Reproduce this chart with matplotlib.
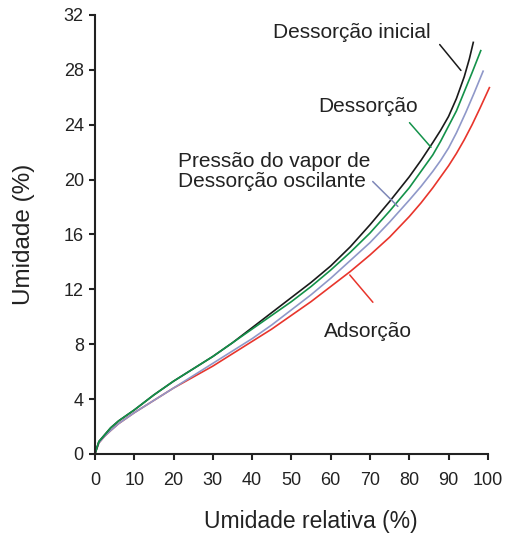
import matplotlib
matplotlib.use('Agg')
from matplotlib import pyplot as plt

plt.rcParams['font.family'] = ['Liberation Sans', 'DejaVu Sans']

# Curves (relative humidity %, moisture %).
x_inicial = [0, 1, 2.5, 4, 6, 8, 10, 15, 20, 25, 30, 35, 40, 45, 50, 55, 60,
             65, 70, 75, 80, 83, 86, 88, 90, 92, 94, 95.3, 96.3]
y_inicial = [0, 0.9, 1.4, 1.9, 2.4, 2.8, 3.2, 4.3, 5.3, 6.2, 7.1, 8.1, 9.2,
             10.3, 11.4, 12.5, 13.7, 15.1, 16.7, 18.4, 20.2, 21.4, 22.7, 23.6,
             24.6, 25.9, 27.5, 28.8, 30.0]

x_dessorcao = [0, 1, 2.5, 4, 6, 8, 10, 15, 20, 25, 30, 35, 40, 45, 50, 55, 60,
               65, 70, 75, 80, 83, 86, 88, 90, 92, 94, 96, 98.2]
y_dessorcao = [0, 0.9, 1.4, 1.9, 2.4, 2.8, 3.2, 4.3, 5.3, 6.2, 7.1, 8.1, 9.1,
               10.1, 11.1, 12.2, 13.4, 14.7, 16.1, 17.7, 19.4, 20.6, 21.8, 22.8,
               23.9, 25.0, 26.4, 27.8, 29.4]

x_oscilante = [0, 1, 2.5, 4, 6, 8, 10, 15, 20, 25, 30, 35, 40, 45, 50, 55, 60,
               65, 70, 75, 80, 83, 86, 88, 90, 92, 94.4, 96.5, 98.8]
y_oscilante = [0, 0.8, 1.3, 1.7, 2.2, 2.6, 3.0, 3.9, 4.8, 5.7, 6.6, 7.5, 8.4,
               9.4, 10.5, 11.6, 12.8, 14.1, 15.4, 16.9, 18.5, 19.5, 20.6, 21.4,
               22.3, 23.4, 24.9, 26.3, 27.9]

x_adsorcao = [0, 1, 2.5, 4, 6, 8, 10, 15, 20, 25, 30, 35, 40, 45, 50, 55, 60,
              65, 70, 75, 80, 83, 86, 88, 90, 92, 94, 96, 98, 100.4]
y_adsorcao = [0, 0.8, 1.3, 1.7, 2.2, 2.6, 3.0, 3.9, 4.8, 5.6, 6.4, 7.3, 8.2,
              9.1, 10.1, 11.1, 12.2, 13.3, 14.5, 15.8, 17.3, 18.3, 19.4, 20.2,
              21.0, 21.9, 22.9, 24.0, 25.2, 26.7]

x_ticks = list(range(0, 101, 10))
y_ticks = list(range(0, 33, 4))

fig = plt.figure(figsize=(5.05, 5.34), dpi=100)
ax = fig.add_axes([0.188, 0.150, 0.778, 0.822])

ax.plot(x_adsorcao, y_adsorcao, c='#e8352c', lw=1.2, clip_on=False)
ax.plot(x_oscilante, y_oscilante, c='#8f98c9', lw=1.2, clip_on=False)
ax.plot(x_inicial, y_inicial, c='#1a1a1a', lw=1.2, clip_on=False)
ax.plot(x_dessorcao, y_dessorcao, c='#14924a', lw=1.2, clip_on=False)

# Labels with leader lines.
txt = dict(fontsize=15, color='#222222')
ax.text(65.4, 30.7, 'Dessorção inicial', ha='center', va='center', **txt)
ax.annotate('', xy=(93.6, 27.8), xytext=(87.3, 30.0),
            arrowprops=dict(arrowstyle='-', color='#1a1a1a', lw=1.1))
ax.text(69.5, 25.3, 'Dessorção', ha='center', va='center', **txt)
ax.annotate('', xy=(86.0, 22.2), xytext=(79.6, 24.3),
            arrowprops=dict(arrowstyle='-', color='#14924a', lw=1.1))
ax.text(21.1, 20.6, 'Pressão do vapor de\nDessorção oscilante', ha='left',
        va='center', linespacing=1.05, **txt)
ax.annotate('', xy=(77.6, 17.9), xytext=(70.2, 20.0),
            arrowprops=dict(arrowstyle='-', color='#7f88b8', lw=1.1))
ax.text(69.5, 8.9, 'Adsorção', ha='center', va='center', **txt)
ax.annotate('', xy=(64.4, 13.2), xytext=(71.2, 10.9),
            arrowprops=dict(arrowstyle='-', color='#e8352c', lw=1.1))

ax.set_xlim(0, 100)
ax.set_ylim(0, 32)
ax.set_xticks(x_ticks)
ax.set_yticks(y_ticks)
for s in ['top', 'right']:
    ax.spines[s].set_visible(False)
for s in ['left', 'bottom']:
    ax.spines[s].set_linewidth(1.5)
    ax.spines[s].set_color('#222222')
ax.tick_params(axis='both', direction='out', length=4, width=1.5,
               labelsize=13, colors='#222222')
ax.tick_params(axis='x', pad=9)
ax.tick_params(axis='y', pad=4)

ax.set_xlabel('Umidade relativa (%)', fontsize=16.5, color='#222222')
ax.set_ylabel('Umidade (%)', fontsize=17.5, color='#222222')
ax.xaxis.label.set_va('center')
ax.yaxis.label.set_va('center')
ax.xaxis.set_label_coords(0.55, -0.153)
ax.yaxis.set_label_coords(-0.181, 0.501)

plt.savefig('out.png')
